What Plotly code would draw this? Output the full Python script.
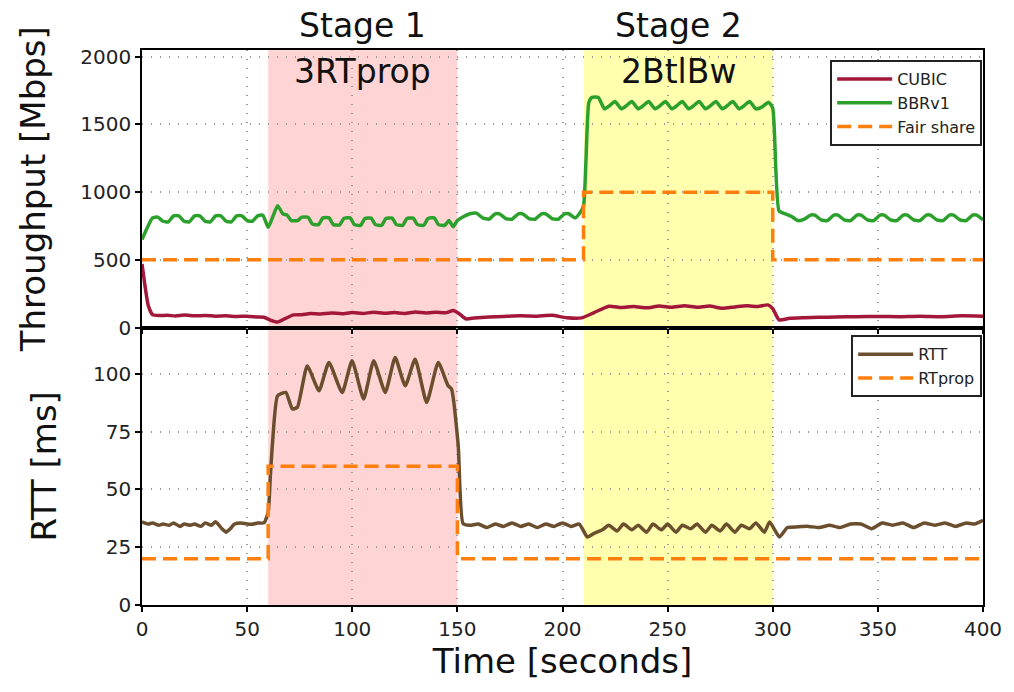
import plotly.graph_objects as go
from plotly.subplots import make_subplots

# ---- throughput panel data (Mbps) ----
bbr_t = [0, 2, 5, 7.5, 10, 12.5, 15, 17.5, 20, 22.5, 25, 27.5, 30, 32.5, 35, 37.5, 40, 42.5, 45, 47.5,
         50, 52.5, 55, 57.5, 60, 62.5, 64.5, 67, 69, 71, 74, 76, 79, 81, 84, 86, 89, 91, 94, 96, 99,
         101, 104, 106, 109, 111, 114, 116, 119, 121, 124, 126, 129, 131, 134, 136, 139, 141, 144,
         146, 148, 150, 153, 156, 159, 162, 165, 168, 170, 173, 176, 179, 181, 184, 187, 190, 192,
         195, 198, 201, 203, 206, 208, 210, 212.5, 214, 217, 220, 222.5, 225, 228, 230.5, 233, 236,
         238.5, 241, 244, 246.5, 249, 252, 254.5, 257, 260, 262.5, 265, 268, 270.5, 273, 276, 278.5,
         281, 284, 286.5, 289, 292, 295, 298, 300, 303, 306, 309, 312, 315, 318, 320, 323, 326, 329,
         331, 334, 337, 340, 342, 345, 348, 351, 353, 356, 359, 362, 364, 367, 370, 373, 375, 378,
         381, 384, 386, 389, 392, 395, 397, 400]
bbr_v = [650, 720, 810, 815, 785, 780, 825, 825, 785, 780, 825, 825, 785, 780, 825, 825, 785, 780, 825, 825,
         790, 785, 825, 830, 740, 830, 900, 840, 830, 790, 790, 815, 815, 765, 760, 810, 810, 760, 758, 805, 810,
         760, 755, 805, 808, 760, 755, 805, 808, 760, 755, 805, 808, 760, 755, 805, 810, 760, 755,
         790, 745, 790, 820, 840, 845, 810, 800, 840, 840, 805, 800, 840, 840, 805, 800, 840, 840,
         805, 800, 840, 840, 810, 840, 900, 1660, 1700, 1700, 1615, 1640, 1670, 1615, 1640, 1670, 1615,
         1640, 1670, 1615, 1640, 1670, 1615, 1640, 1670, 1615, 1640, 1670, 1615, 1640, 1670, 1615, 1640,
         1670, 1615, 1640, 1670, 1615, 1630, 1665, 1620, 860, 840, 820, 790, 800, 830, 830, 795, 790, 830,
         830, 795, 790, 830, 830, 795, 790, 830, 830, 795, 790, 830, 830, 795, 790, 830, 830, 795,
         790, 830, 830, 795, 790, 830, 830, 795, 790, 820, 835, 845]

cubic_t = [0, 1.5, 3, 5, 8, 12, 16, 20, 25, 30, 35, 40, 45, 50, 55, 58, 61, 64.5, 68, 72, 76, 80, 85,
           90, 95, 100, 105, 110, 115, 120, 125, 130, 135, 140, 145, 148, 151, 154, 158, 165, 172, 180,
           188, 195, 202, 209, 215, 222, 228, 234, 240, 246, 252, 258, 264, 270, 276, 282, 288, 293,
           297.7, 300, 303, 308, 315, 322, 330, 340, 350, 360, 370, 380, 390, 400]
cubic_v = [470, 300, 160, 95, 88, 90, 85, 92, 86, 88, 84, 86, 82, 84, 78, 76, 55, 40, 65, 93, 95, 103, 100,
           108, 102, 110, 104, 112, 106, 110, 104, 115, 108, 112, 110, 125, 100, 64, 70, 78, 82, 86,
           84, 90, 72, 71, 110, 157, 148, 155, 145, 158, 150, 160, 150, 158, 142, 152, 160, 155,
           167, 140, 56, 68, 72, 75, 78, 80, 82, 80, 84, 80, 86, 84]

fair_t = [0, 210, 300, 400]
fair_v = [500, 1000, 500, 500]

# ---- RTT panel data (ms) ----
rtt_t = [0, 3, 5, 8, 10, 13, 15, 18, 20, 23, 25, 28, 30, 33, 35, 38, 40, 42, 44, 47, 50, 53, 55, 58,
         60, 61, 62.1, 64.5, 68.4, 71.5, 73.9, 78.6, 84.2, 88.9, 95.2, 99.9, 105.4, 110.2, 115.7,
         120.4, 125.2, 129.9, 135.4, 140.9, 145.6, 147.2, 150.4, 152.7, 156, 160, 164, 168, 172, 176,
         180, 184, 188, 192, 196, 200, 204, 208, 211.8, 215, 219, 222, 226, 229, 233, 236, 240, 243,
         247, 250, 254, 257, 261, 264, 268, 271, 275, 278, 282, 285, 289, 292, 296, 298.5, 303.2,
         307, 312, 317, 322, 327, 332, 337, 342, 347, 352, 357, 362, 367, 372, 377, 382, 387, 392,
         396, 400]
rtt_v = [36, 35, 35.5, 34.5, 35, 34.5, 35.5, 34, 35, 34.5, 35, 34, 35.5, 34.5, 36, 33, 31.5, 33, 35,
         35.5, 35, 35, 35.5, 35.5, 40, 55, 70.4, 90.5, 91.9, 84.8, 85.5, 103.4, 92.7, 104.9, 91.9,
         105.6, 89.1, 105.6, 91.9, 107, 94.8, 106.3, 87.6, 104.9, 94.8, 93.4, 69, 35.2, 34.5, 35,
         33.5, 35, 34, 35.5, 34, 35, 33.5, 35, 34, 35.5, 34, 35, 29.4, 31, 32.5, 34.5, 32, 35, 32.5,
         34.5, 31.5, 35, 32.5, 35, 31.5, 34.5, 33, 35, 31.5, 34.5, 32, 35, 31.5, 34.5, 33, 35.5,
         31.5, 35.9, 29.4, 33.5, 33.8, 34, 33.5, 34.5, 33.5, 35, 35, 33, 35.5, 34.5, 35.5, 33.5, 35.5,
         34.5, 35.5, 34, 35.5, 35, 36.6]

rtprop_t = [0, 60, 150, 400]
rtprop_v = [20, 60, 20, 20]

# ---- axis ticks ----
time_ticks = [0, 50, 100, 150, 200, 250, 300, 350, 400]
tput_ticks = [0, 500, 1000, 1500, 2000]
rtt_ticks = [0, 25, 50, 75, 100]

# ---- shaded experiment stages ----
stages = [
    dict(start=60, end=150, color="rgba(255,60,60,0.22)", title="Stage 1", sub="3RTprop"),
    dict(start=210, end=300, color="rgba(255,255,40,0.38)", title="Stage 2", sub="2BtlBw"),
]

FONT = "DejaVu Sans"
DASH = "14px,7px"
LW = 3.5

fig = make_subplots(rows=2, cols=1, shared_xaxes=True, vertical_spacing=0)

fig.add_trace(go.Scatter(x=cubic_t, y=cubic_v, mode="lines", name="CUBIC",
                         line=dict(color="#a3173a", width=LW, shape="spline", smoothing=0.5),
                         legend="legend"), row=1, col=1)
fig.add_trace(go.Scatter(x=bbr_t, y=bbr_v, mode="lines", name="BBRv1",
                         line=dict(color="#2ca02c", width=LW, shape="spline", smoothing=0.5),
                         legend="legend"), row=1, col=1)
fig.add_trace(go.Scatter(x=fair_t, y=fair_v, mode="lines", name="Fair share",
                         line=dict(color="#ff7f0e", width=LW, dash=DASH, shape="hv"),
                         legend="legend"), row=1, col=1)

fig.add_trace(go.Scatter(x=rtt_t, y=rtt_v, mode="lines", name="RTT",
                         line=dict(color="#6b4e2e", width=LW, shape="spline", smoothing=0.5),
                         legend="legend2"), row=2, col=1)
fig.add_trace(go.Scatter(x=rtprop_t, y=rtprop_v, mode="lines", name="RTprop",
                         line=dict(color="#ff7f0e", width=LW, dash=DASH, shape="hv"),
                         legend="legend2"), row=2, col=1)

for s in stages:
    fig.add_shape(type="rect", xref="x", yref="paper", x0=s["start"], x1=s["end"], y0=0, y1=1,
                  fillcolor=s["color"], line_width=0, layer="below")
    mid = (s["start"] + s["end"]) / 2
    fig.add_annotation(x=mid, xref="x", y=1.045, yref="paper", text=s["title"], showarrow=False,
                       font=dict(family=FONT, size=33, color="#111"), yanchor="middle")
    fig.add_annotation(x=mid, xref="x", y=0.962, yref="paper", text=s["sub"], showarrow=False,
                       font=dict(family=FONT, size=33, color="#111"), yanchor="middle")

axis_common = dict(showline=True, linecolor="black", linewidth=1.5, mirror=True,
                   ticks="outside", ticklen=5, tickwidth=1.5, tickcolor="black",
                   showgrid=True, gridcolor="#9a9a9a", griddash="1px,8px", gridwidth=1.5,
                   zeroline=False, tickfont=dict(family=FONT, size=20, color="#222"))

fig.update_xaxes(range=[0, 400], tickvals=time_ticks, **axis_common)
fig.update_xaxes(title=dict(text="Time [seconds]", font=dict(family=FONT, size=34, color="#111"),
                            standoff=6), row=2, col=1)
fig.update_yaxes(range=[0, 2050], tickvals=tput_ticks, row=1, col=1, **axis_common)
fig.update_yaxes(title=dict(text="Throughput [Mbps]", font=dict(family=FONT, size=34, color="#111"),
                            standoff=24), row=1, col=1)
fig.update_yaxes(range=[0, 120], tickvals=rtt_ticks, row=2, col=1, **axis_common)
fig.update_yaxes(title=dict(text="RTT [ms]", font=dict(family=FONT, size=34, color="#111"),
                            standoff=26), row=2, col=1)

legend_style = dict(bgcolor="white", bordercolor="#222", borderwidth=2,
                    font=dict(family=FONT, size=16, color="#222"),
                    xanchor="right", yanchor="top", tracegroupgap=0, itemwidth=55)
fig.update_layout(
    width=1014, height=692,
    margin=dict(l=142, r=26, t=50, b=87),
    paper_bgcolor="white", plot_bgcolor="white",
    font=dict(family=FONT),
    showlegend=True,
    legend=dict(x=0.999, y=0.982, **legend_style),
    legend2=dict(x=0.999, y=0.486, **legend_style),
)

fig.write_html("out.html")
